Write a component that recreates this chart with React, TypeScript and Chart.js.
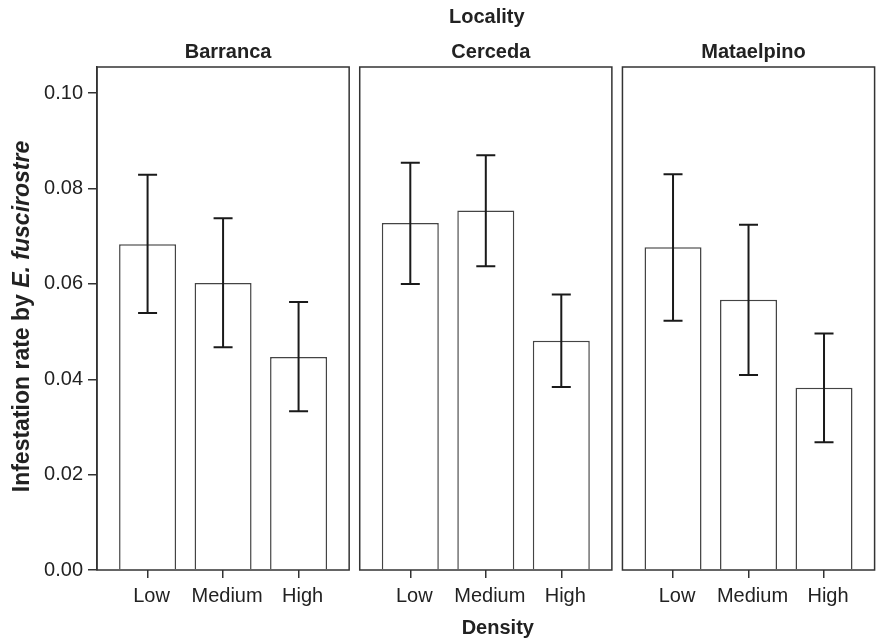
import React, { useEffect, useRef } from "react";
import { Chart, registerables } from "chart.js";

Chart.register(...registerables);

// ---------- data ----------
const localities = ["Barranca", "Cerceda", "Mataelpino"];
const densities = ["Low", "Medium", "High"];

const barrancaMean = [0.0683, 0.0602, 0.0447];
const barrancaLower = [0.0539, 0.0467, 0.0333];
const barrancaUpper = [0.0829, 0.0738, 0.0562];

const cercedaMean = [0.0728, 0.0754, 0.0481];
const cercedaLower = [0.06, 0.0637, 0.0384];
const cercedaUpper = [0.0854, 0.087, 0.0578];

const mataelpinoMean = [0.0677, 0.0567, 0.0382];
const mataelpinoLower = [0.0523, 0.0409, 0.0268];
const mataelpinoUpper = [0.083, 0.0724, 0.0496];

const yTicks = [0, 0.02, 0.04, 0.06, 0.08, 0.1];
const yMax = 0.1055;

const xTitle = "Density";
const facetTitle = "Locality";
const yTitlePlain = "Infestation rate by ";
const yTitleItalic = "E. fuscirostre";

// ---------- layout helpers ----------
const PAD = 0.67; // edge of panel to first category centre (category units)
const GAP = 0.14; // gap between panels
const PANEL_W = 2 + 2 * PAD;
const panelStart = (p: number) => p * (PANEL_W + GAP);
const catX = (p: number, c: number) => panelStart(p) + PAD + c;

const means = [barrancaMean, cercedaMean, mataelpinoMean];
const lowers = [barrancaLower, cercedaLower, mataelpinoLower];
const uppers = [barrancaUpper, cercedaUpper, mataelpinoUpper];

const FONT = "'Liberation Sans', Arial, Helvetica, sans-serif";
const INK = "#222";

export default function App() {
  const ref = useRef<HTMLCanvasElement | null>(null);

  useEffect(() => {
    if (!ref.current) return;

    const points: { x: number; y: number; lo: number; hi: number }[] = [];
    localities.forEach((_, p) => {
      densities.forEach((_, c) => {
        points.push({ x: catX(p, c), y: means[p][c], lo: lowers[p][c], hi: uppers[p][c] });
      });
    });
    const tickPositions: number[] = [];
    localities.forEach((_, p) => densities.forEach((_, c) => tickPositions.push(catX(p, c))));

    const decor = {
      id: "decor",
      afterDatasetsDraw(chart: any) {
        const ctx = chart.ctx as CanvasRenderingContext2D;
        const xs = chart.scales.x;
        const ys = chart.scales.y;
        const area = chart.chartArea;
        const meta = chart.getDatasetMeta(0);

        // error bars
        ctx.save();
        ctx.strokeStyle = "#1a1a1a";
        ctx.lineWidth = 2;
        points.forEach((pt, i) => {
          const bar = meta.data[i];
          const cx = xs.getPixelForValue(pt.x);
          const yLo = ys.getPixelForValue(pt.lo);
          const yHi = ys.getPixelForValue(pt.hi);
          const half = (bar ? bar.width : 57) / 6;
          ctx.beginPath();
          ctx.moveTo(cx, yLo);
          ctx.lineTo(cx, yHi);
          ctx.moveTo(cx - half, yLo);
          ctx.lineTo(cx + half, yLo);
          ctx.moveTo(cx - half, yHi);
          ctx.lineTo(cx + half, yHi);
          ctx.stroke();
        });
        ctx.restore();

        // panel boxes and titles
        ctx.save();
        ctx.strokeStyle = "#333";
        ctx.lineWidth = 1.5;
        ctx.fillStyle = INK;
        ctx.textAlign = "center";
        ctx.textBaseline = "middle";
        ctx.font = `bold 20px ${FONT}`;
        localities.forEach((name, p) => {
          const l = xs.getPixelForValue(panelStart(p));
          const r = xs.getPixelForValue(panelStart(p) + PANEL_W);
          ctx.strokeRect(l, area.top, r - l, area.bottom - area.top);
          ctx.fillText(name, (l + r) / 2 + 5, 52);
        });
        const midX = (area.left + area.right) / 2;
        ctx.fillText(facetTitle, midX + 1, 17);
        ctx.fillText(xTitle, midX + 12, 628);

        // y title with italic part
        const fPlain = `bold 23px ${FONT}`;
        const fItal = `italic bold 23px ${FONT}`;
        ctx.font = fPlain;
        const w1 = ctx.measureText(yTitlePlain).width;
        ctx.font = fItal;
        const w2 = ctx.measureText(yTitleItalic).width;
        const total = w1 + w2;
        ctx.translate(23, (area.top + area.bottom) / 2 - 2);
        ctx.rotate(-Math.PI / 2);
        ctx.textAlign = "left";
        ctx.font = fPlain;
        ctx.fillText(yTitlePlain, -total / 2, 0);
        ctx.font = fItal;
        ctx.fillText(yTitleItalic, -total / 2 + w1, 0);
        ctx.restore();
      },
    };

    const chart = new Chart(ref.current, {
      type: "bar",
      data: {
        datasets: [
          {
            data: points.map((p) => ({ x: p.x, y: p.y })),
            backgroundColor: "#ffffff",
            borderColor: "#444",
            borderWidth: 1.5,
            barPercentage: 0.755,
            categoryPercentage: 1,
          } as any,
        ],
      },
      options: {
        responsive: false,
        animation: false,
        layout: { padding: { left: 0, right: 1.4, top: 67, bottom: 0 } },
        plugins: { legend: { display: false }, tooltip: { enabled: false }, title: { display: false } },
        scales: {
          x: {
            type: "linear",
            offset: false,
            min: 0,
            max: panelStart(2) + PANEL_W,
            afterBuildTicks: (scale: any) => {
              scale.ticks = tickPositions.map((v) => ({ value: v }));
            },
            afterFit: (scale: any) => {
              scale.height = 69;
            },
            ticks: {
              autoSkip: false,
              maxRotation: 0,
              padding: 6,
              labelOffset: 4,
              color: INK,
              font: { family: FONT, size: 20 },
              callback: (_v: any, i: number) => densities[i % densities.length],
            },
            grid: { offset: false, drawOnChartArea: false, tickLength: 8, color: "#333", lineWidth: 1.5 },
            border: { display: false },
          },
          y: {
            type: "linear",
            min: 0,
            max: yMax,
            afterBuildTicks: (scale: any) => {
              scale.ticks = yTicks.map((v) => ({ value: v }));
            },
            afterFit: (scale: any) => {
              scale.width = 97;
            },
            ticks: {
              padding: 5,
              color: INK,
              font: { family: FONT, size: 20 },
              callback: (v: any) => Number(v).toFixed(2),
            },
            grid: { drawOnChartArea: false, tickLength: 9, color: "#333", lineWidth: 1.5 },
            border: { display: true, color: "#333", width: 1.5 },
          },
        },
      },
      plugins: [decor],
    });

    return () => chart.destroy();
  }, []);

  return (
    <div style={{ position: "absolute", left: 0, top: 0, width: 876, height: 639, background: "#fff" }}>
      <canvas ref={ref} width={876} height={639} style={{ display: "block" }} />
    </div>
  );
}
